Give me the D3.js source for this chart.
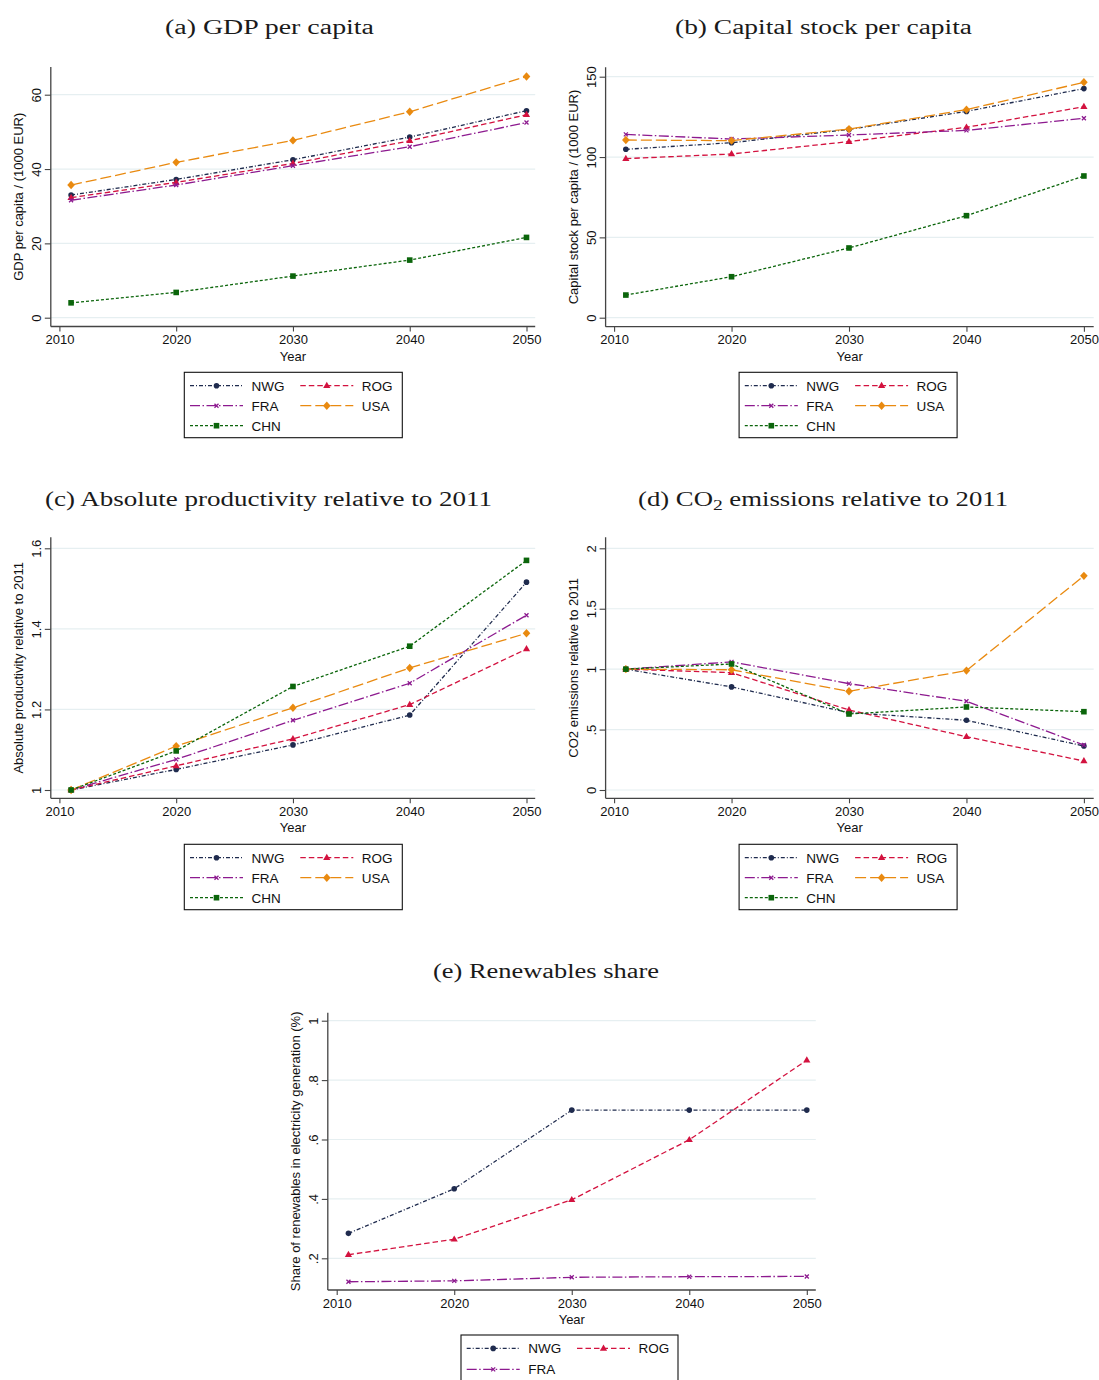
<!DOCTYPE html>
<html>
<head>
<meta charset="utf-8">
<script src="https://cdn.jsdelivr.net/npm/d3@7"></script>
<style>
  html, body { margin: 0; padding: 0; background: #ffffff; }
  svg { display: block; }
</style>
</head>
<body>
<svg id="chart" width="1099" height="1380"></svg>
<script>
// ---------------- DATA ----------------
const years = [2011, 2020, 2030, 2040, 2050];
const seriesNames = ["NWG", "ROG", "FRA", "USA", "CHN"];
const xTickValues = [2010, 2020, 2030, 2040, 2050];

// values per series, in seriesNames order
const gdpPerCapita = [
  [33.0, 37.2, 42.5, 48.6, 55.7],
  [32.3, 36.4, 41.5, 47.6, 54.6],
  [31.6, 35.7, 40.9, 46.0, 52.5],
  [35.7, 41.8, 47.7, 55.4, 64.9],
  [4.0, 6.8, 11.2, 15.5, 21.6]
];
const capitalPerCapita = [
  [104.8, 108.9, 117.2, 128.4, 142.6],
  [99.0, 101.9, 109.6, 118.5, 131.3],
  [114.1, 111.2, 113.7, 116.6, 124.1],
  [110.6, 110.2, 117.4, 129.5, 146.5],
  [14.1, 25.5, 43.4, 63.5, 88.2]
];
const productivity = [
  [1.0, 1.051, 1.112, 1.186, 1.516],
  [1.0, 1.060, 1.127, 1.212, 1.350],
  [1.0, 1.076, 1.173, 1.265, 1.434],
  [1.0, 1.109, 1.204, 1.303, 1.389],
  [1.0, 1.097, 1.257, 1.357, 1.570]
];
const co2Emissions = [
  [1.0, 0.853, 0.640, 0.577, 0.364],
  [1.0, 0.971, 0.662, 0.441, 0.240],
  [1.0, 1.060, 0.880, 0.734, 0.372],
  [1.0, 0.995, 0.817, 0.988, 1.772],
  [1.0, 1.043, 0.629, 0.687, 0.648]
];
const renewablesNames = ["NWG", "ROG", "FRA"];
const renewablesShare = [
  [0.284, 0.434, 0.699, 0.699, 0.699],
  [0.212, 0.264, 0.397, 0.599, 0.867],
  [0.121, 0.124, 0.136, 0.138, 0.139]
];

const gdpTicks = [0, 20, 40, 60];
const gdpTickLabels = ["0", "20", "40", "60"];
const capTicks = [0, 50, 100, 150];
const capTickLabels = ["0", "50", "100", "150"];
const prodTicks = [1, 1.2, 1.4, 1.6];
const prodTickLabels = ["1", "1.2", "1.4", "1.6"];
const co2Ticks = [0, 0.5, 1, 1.5, 2];
const co2TickLabels = ["0", ".5", "1", "1.5", "2"];
const renTicks = [0.2, 0.4, 0.6, 0.8, 1];
const renTickLabels = [".2", ".4", ".6", ".8", "1"];

// ---------------- STYLES ----------------
const styles = {
  NWG: { color: "#1f2b4e", dash: "4,2,1,2", marker: "circle" },
  ROG: { color: "#d3123f", dash: "5.5,3", marker: "triangle" },
  FRA: { color: "#8d1a8f", dash: "10,2.5,1.5,2.5", marker: "x" },
  USA: { color: "#e98a10", dash: "11,4", marker: "diamond" },
  CHN: { color: "#0b650b", dash: "3,2", marker: "square" }
};

const svg = d3.select("#chart");
svg.append("rect").attr("width", 1099).attr("height", 1380).attr("fill", "#fff");

const sans = "'Liberation Sans', Arial, Helvetica, sans-serif";
const serif = "'Liberation Serif', 'Times New Roman', serif";

function drawMarker(g, type, x, y, color) {
  if (type === "circle") {
    g.append("circle").attr("cx", x).attr("cy", y).attr("r", 2.8).attr("fill", color);
  } else if (type === "triangle") {
    g.append("path").attr("d", `M${x},${y-3.9}L${x+3.6},${y+2.3}L${x-3.6},${y+2.3}Z`).attr("fill", color);
  } else if (type === "x") {
    g.append("path").attr("d", `M${x-2},${y-2}L${x+2},${y+2}M${x-2},${y+2}L${x+2},${y-2}`)
      .attr("stroke", color).attr("stroke-width", 1.3).attr("fill", "none");
  } else if (type === "diamond") {
    g.append("path").attr("d", `M${x},${y-4.2}L${x+3.8},${y}L${x},${y+4.2}L${x-3.8},${y}Z`).attr("fill", color);
  } else if (type === "square") {
    g.append("rect").attr("x", x - 2.8).attr("y", y - 2.8).attr("width", 5.6).attr("height", 5.6).attr("fill", color);
  }
}

function drawPanel(cfg) {
  const g = svg.append("g");
  const x = d3.scaleLinear().domain([2010, 2050]).range(cfg.xRange);
  const y = d3.scaleLinear().domain(cfg.yDomain).range(cfg.yRange);

  // gridlines
  g.selectAll(null).data(cfg.ticks).enter().append("line")
    .attr("x1", cfg.left).attr("x2", cfg.right)
    .attr("y1", d => y(d)).attr("y2", d => y(d))
    .attr("stroke", "#e6eff1").attr("stroke-width", 1.2);

  // y axis
  const yAxis = d3.axisLeft(y).tickValues(cfg.ticks).tickSize(6)
    .tickFormat((d, i) => cfg.tickLabels[i]);
  const ya = g.append("g").attr("transform", `translate(${cfg.left},0)`).call(yAxis);
  ya.select(".domain").remove();
  ya.selectAll(".tick line").attr("stroke", "#444").attr("stroke-width", 1.1);
  ya.selectAll(".tick text")
    .attr("x", null).attr("dy", null)
    .attr("transform", "translate(-10,0) rotate(-90)")
    .attr("text-anchor", "middle")
    .attr("font-family", sans).attr("font-size", 13).attr("fill", "#111");
  g.append("line").attr("x1", cfg.left).attr("x2", cfg.left)
    .attr("y1", cfg.top).attr("y2", cfg.bottom)
    .attr("stroke", "#444").attr("stroke-width", 1.3);

  // x axis
  const xAxis = d3.axisBottom(x).tickValues(xTickValues).tickSize(5).tickFormat(d3.format("d"));
  const xa = g.append("g").attr("transform", `translate(0,${cfg.bottom})`).call(xAxis);
  xa.select(".domain").remove();
  xa.selectAll(".tick line").attr("stroke", "#444").attr("stroke-width", 1.1);
  xa.selectAll(".tick text").attr("y", 17.5).attr("dy", null)
    .attr("font-family", sans).attr("font-size", 13).attr("fill", "#111");
  g.append("line").attr("x1", cfg.left).attr("x2", cfg.right)
    .attr("y1", cfg.bottom).attr("y2", cfg.bottom)
    .attr("stroke", "#444").attr("stroke-width", 1.3);

  // axis titles
  g.append("text").attr("x", (cfg.left + cfg.right) / 2).attr("y", cfg.bottom + 34)
    .attr("text-anchor", "middle").attr("font-family", sans).attr("font-size", 13)
    .attr("fill", "#111").text("Year");
  g.append("text")
    .attr("transform", `translate(${cfg.left - 27.5},${(cfg.top + cfg.bottom) / 2}) rotate(-90)`)
    .attr("text-anchor", "middle").attr("font-family", sans).attr("font-size", 13)
    .attr("fill", "#111").text(cfg.yTitle);

  // title
  const t = g.append("text").attr("x", cfg.titleX).attr("y", cfg.titleY)
    .attr("text-anchor", "middle").attr("font-family", serif).attr("font-size", 20.5)
    .attr("fill", "#1a1a1a")
    .attr("textLength", cfg.titleWidth).attr("lengthAdjust", "spacingAndGlyphs");
  cfg.titleParts.forEach(p => {
    const ts = t.append("tspan").text(p.text);
    if (p.sub) ts.attr("font-size", 15).attr("dy", 4);
    if (p.after) ts.attr("dy", -4);
  });

  // series lines
  const line = d3.line().x(d => x(d.year)).y(d => y(d.value));
  cfg.names.forEach((name, i) => {
    const st = styles[name];
    const pts = years.map((yr, j) => ({ year: yr, value: cfg.values[i][j] }));
    g.append("path").datum(pts).attr("d", line)
      .attr("fill", "none").attr("stroke", st.color).attr("stroke-width", 1.3)
      .attr("stroke-dasharray", st.dash);
    pts.forEach(p => drawMarker(g, st.marker, x(p.year), y(p.value), st.color));
  });

  // legend
  const L = cfg.legend;
  const lg = svg.append("g");
  lg.append("rect").attr("x", L.x).attr("y", L.y).attr("width", L.w).attr("height", L.h)
    .attr("fill", "#fff").attr("stroke", "#111").attr("stroke-width", 1.1);
  cfg.names.forEach((name, i) => {
    const st = styles[name];
    const col = i % 2, row = Math.floor(i / 2);
    const x0 = L.x + (col === 0 ? 5.7 : 116);
    const yy = L.y + 13.4 + row * L.rowStep;
    lg.append("line").attr("x1", x0).attr("x2", x0 + 53).attr("y1", yy).attr("y2", yy)
      .attr("stroke", st.color).attr("stroke-width", 1.3).attr("stroke-dasharray", st.dash);
    drawMarker(lg, st.marker, x0 + 26.5, yy, st.color);
    lg.append("text").attr("x", x0 + 61.5).attr("y", yy + 4.8)
      .attr("font-family", sans).attr("font-size", 13.5).attr("fill", "#111").text(name);
  });
}

drawPanel({
  left: 50.8, right: 535.2, top: 67, bottom: 326.5,
  xRange: [59.4, 526.5], yDomain: [0, 60], yRange: [317.7, 94.7],
  ticks: gdpTicks, tickLabels: gdpTickLabels,
  yTitle: "GDP per capita / (1000 EUR)",
  titleX: 269.5, titleY: 34, titleWidth: 209,
  titleParts: [{ text: "(a) GDP per capita" }],
  names: seriesNames, values: gdpPerCapita,
  legend: { x: 184.3, y: 372.3, w: 218, h: 65.4, rowStep: 20 }
});
drawPanel({
  left: 605.6, right: 1093.7, top: 67.3, bottom: 326.7,
  xRange: [614.1, 1083.9], yDomain: [0, 150], yRange: [317.7, 76.7],
  ticks: capTicks, tickLabels: capTickLabels,
  yTitle: "Capital stock per capita / (1000 EUR)",
  titleX: 823.5, titleY: 34, titleWidth: 297,
  titleParts: [{ text: "(b) Capital stock per capita" }],
  names: seriesNames, values: capitalPerCapita,
  legend: { x: 739.1, y: 372.3, w: 218, h: 65.4, rowStep: 20 }
});
drawPanel({
  left: 50.8, right: 535.2, top: 537.3, bottom: 798.3,
  xRange: [59.4, 526.5], yDomain: [1, 1.6], yRange: [790, 548.3],
  ticks: prodTicks, tickLabels: prodTickLabels,
  yTitle: "Absolute productivity relative to 2011",
  titleX: 268.5, titleY: 506, titleWidth: 447,
  titleParts: [{ text: "(c) Absolute productivity relative to 2011" }],
  names: seriesNames, values: productivity,
  legend: { x: 184.3, y: 844.3, w: 218, h: 65.4, rowStep: 20 }
});
drawPanel({
  left: 605.6, right: 1093.7, top: 537.3, bottom: 798.3,
  xRange: [614.1, 1083.9], yDomain: [0, 2], yRange: [790, 548.3],
  ticks: co2Ticks, tickLabels: co2TickLabels,
  yTitle: "CO2 emissions relative to 2011",
  titleX: 823, titleY: 506, titleWidth: 370,
  titleParts: [{ text: "(d) CO" }, { text: "2", sub: true }, { text: " emissions relative to 2011", after: true }],
  names: seriesNames, values: co2Emissions,
  legend: { x: 739.1, y: 844.3, w: 218, h: 65.4, rowStep: 20 }
});
drawPanel({
  left: 327.8, right: 815.8, top: 1012.7, bottom: 1290,
  xRange: [336.7, 806.8], yDomain: [0.2, 1], yRange: [1258.3, 1020.7],
  ticks: renTicks, tickLabels: renTickLabels,
  yTitle: "Share of renewables in electricity generation (%)",
  titleX: 546, titleY: 978, titleWidth: 226,
  titleParts: [{ text: "(e) Renewables share" }],
  names: renewablesNames, values: renewablesShare,
  legend: { x: 461, y: 1335, w: 217, h: 48, rowStep: 21 }
});
</script>
</body>
</html>
